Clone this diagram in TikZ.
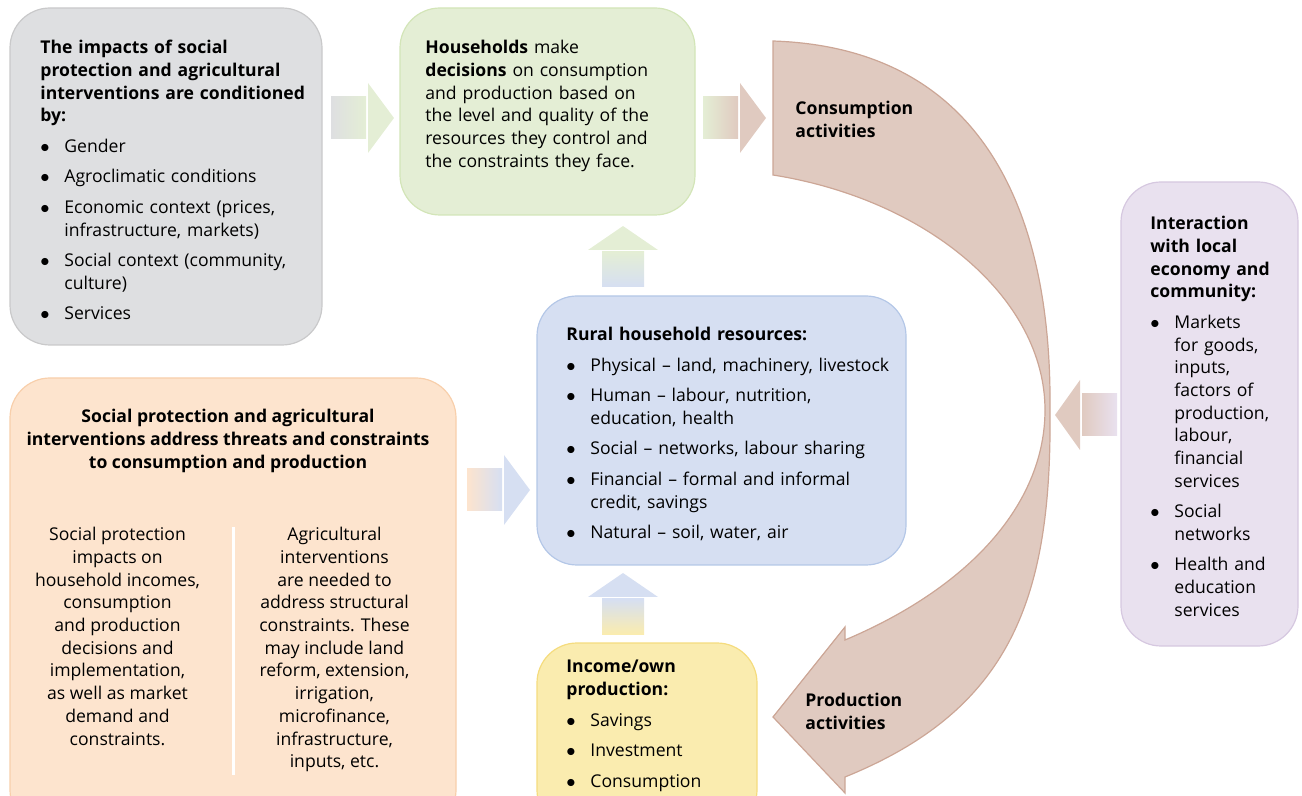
\documentclass[tikz,border=0pt]{standalone}
\usepackage{fontspec}
\setmainfont{Open Sans}
\usepackage{tikz}
\usetikzlibrary{calc,fit}
\definecolor{grayfill}{HTML}{DEDFE1}
\definecolor{grayline}{HTML}{C9C9CA}
\definecolor{greenfill}{HTML}{E4EED5}
\definecolor{greenline}{HTML}{D3E5B8}
\definecolor{bluefill}{HTML}{D6DFF2}
\definecolor{blueline}{HTML}{B4C7E7}
\definecolor{orangefill}{HTML}{FDE4CE}
\definecolor{orangeline}{HTML}{F8CFAB}
\definecolor{yellowfill}{HTML}{FAECAF}
\definecolor{yellowline}{HTML}{F5DC7E}
\definecolor{purplefill}{HTML}{E9E1EF}
\definecolor{purpleline}{HTML}{D6C8E0}
\definecolor{brownfill}{HTML}{E0CAC0}
\definecolor{brownline}{HTML}{CCA696}

% list item with hanging indent, lines broken by \newline
\newcommand{\itm}[1]{\par\vspace{3.9pt}\hangindent=12pt\hangafter=1\noindent\makebox[12pt][l]{$\bullet$}#1}
% block arrows: start point, shaft colour, head colour
\newcommand{\rightblock}[3]{%
  \shade[left color=#2, right color=#3] ($#1+(0,-21)$) rectangle ++(35,42);
  \fill[#3] ($#1+(37,-35)$) -- ++(26,35) -- ++(-26,35) -- cycle;}
\newcommand{\leftblock}[3]{%
  \shade[right color=#2, left color=#3] ($#1+(0,-21)$) rectangle ++(-35,42);
  \fill[#3] ($#1+(-37,-35)$) -- ++(-25,35) -- ++(25,35) -- cycle;}
\newcommand{\upblock}[3]{%
  \shade[bottom color=#2, top color=#3] ($#1+(-21,0)$) rectangle ++(42,-35);
  \fill[#3] ($#1+(-35,-37)$) -- ++(35,-24) -- ++(35,24) -- cycle;}

\begin{document}
\begin{tikzpicture}[
     x = 0.5pt, y = -0.5pt,
     every node/.style = {font = \fontsize{8.8}{11.35}\selectfont},
     box/.style = {rectangle, rounded corners = 20pt, line width = 0.6pt, inner sep = 0pt},
     txt/.style = {anchor = north west, inner sep = 0pt, align = left},
     ctr/.style = {anchor = north, inner sep = 0pt, align = center},
     bold/.style = {font = \fontsize{8.8}{11.35}\selectfont\bfseries}
     ]
     \useasboundingbox (0,0) rectangle (1302,796);
     \clip (0,0) rectangle (1302,796);

       % boxes
       \node[box, fill=grayfill, draw=grayline, fit={(10,8) (322,345)}] (impacts) {};
       \node[box, fill=greenfill, draw=greenline, fit={(400,8) (695,215)}] (decide) {};
       \node[box, fill=bluefill, draw=blueline, fit={(537,296) (906,565)}] (rural) {};
       \node[box, fill=orangefill, draw=orangeline, fit={(10,378) (456,830)}] (address) {};
       \node[box, fill=yellowfill, draw=yellowline, fit={(537,643) (757,830)}] (own) {};
       \node[box, fill=purplefill, draw=purpleline, fit={(1121,182) (1298,646)}] (local) {};

       % curved arrow
       \filldraw[fill=brownfill, draw=brownline, line width=0.6pt]
         (773,41) .. controls (985,48) and (1052,215) .. (1050,410)
         .. controls (1052,600) and (1010,710) .. (845,777)
         -- (845,793) -- (773,717) -- (845,627) -- (845,640)
         .. controls (975,585) and (1045,500) .. (1045,410)
         .. controls (1045,300) and (930,200) .. (773,175) -- cycle;

       % block arrows
       \rightblock{(331,118)}{grayfill}{greenfill}
       \rightblock{(703,118)}{greenfill}{brownfill}
       \rightblock{(467,490)}{orangefill}{bluefill}
       \upblock{(623,287)}{bluefill}{greenfill}
       \upblock{(623,634)}{yellowfill}{bluefill}
       \leftblock{(1117,415)}{purplefill}{brownfill}

       % texts
       \node[txt, text width=140pt] (impactstxt) at (40,40)
         {{\bfseries The impacts of social\\protection and agricultural\\interventions are conditioned\\by:}
          \itm{Gender}
          \itm{Agroclimatic conditions}
          \itm{Economic context (prices,\newline infrastructure, markets)}
          \itm{Social context (community,\newline culture)}
          \itm{Services}\par};
       \node[txt, text width=140pt] (decidetxt) at (425,40)
         {\textbf{Households} make\\\textbf{decisions} on consumption\\and production based on\\the level and quality of the\\resources they control and\\the constraints they face.};
       \node[txt, bold] (consumption) at (795,101) {Consumption\\activities};
       \node[txt, text width=170pt] (ruraltxt) at (566,327)
         {{\bfseries Rural household resources:}
          \itm{Physical -- land, machinery, livestock}
          \itm{Human -- labour, nutrition,\newline education, health}
          \itm{Social -- networks, labour sharing}
          \itm{Financial -- formal and informal\newline credit, savings}
          \itm{Natural -- soil, water, air}\par};
       \node[ctr, bold] (addresstxt) at (228,409)
         {Social protection and agricultural\\interventions address threats and constraints\\to consumption and production};
       \node[ctr] (socialtxt) at (117.5,527)
         {Social protection\\impacts on\\household incomes,\\consumption\\and production\\decisions and\\implementation,\\as well as market\\demand and\\constraints.};
       \node[ctr] (agritxt) at (334.5,527)
         {Agricultural\\interventions\\are needed to\\address structural\\constraints. These\\may include land\\reform, extension,\\irrigation,\\microfinance,\\infrastructure,\\inputs, etc.};
       \draw[white, line width=1.5pt] (233,527) -- (233,775);
       \node[txt, text width=95pt] (owntxt) at (566,660)
         {{\bfseries Income/own\\production:}
          \itm{Savings}
          \itm{Investment}
          \itm{Consumption}\par};
       \node[txt, text width=74pt] (localtxt) at (1150,216)
         {{\bfseries Interaction\\with local\\economy and\\community:}
          \itm{Markets\newline for goods,\newline inputs,\newline factors of\newline production,\newline labour,\newline financial\newline services}
          \itm{Social\newline networks}
          \itm{Health and\newline education\newline services}\par};
       \node[txt, bold] (production) at (805,693) {Production\\activities};

      \end{tikzpicture}
\end{document}
